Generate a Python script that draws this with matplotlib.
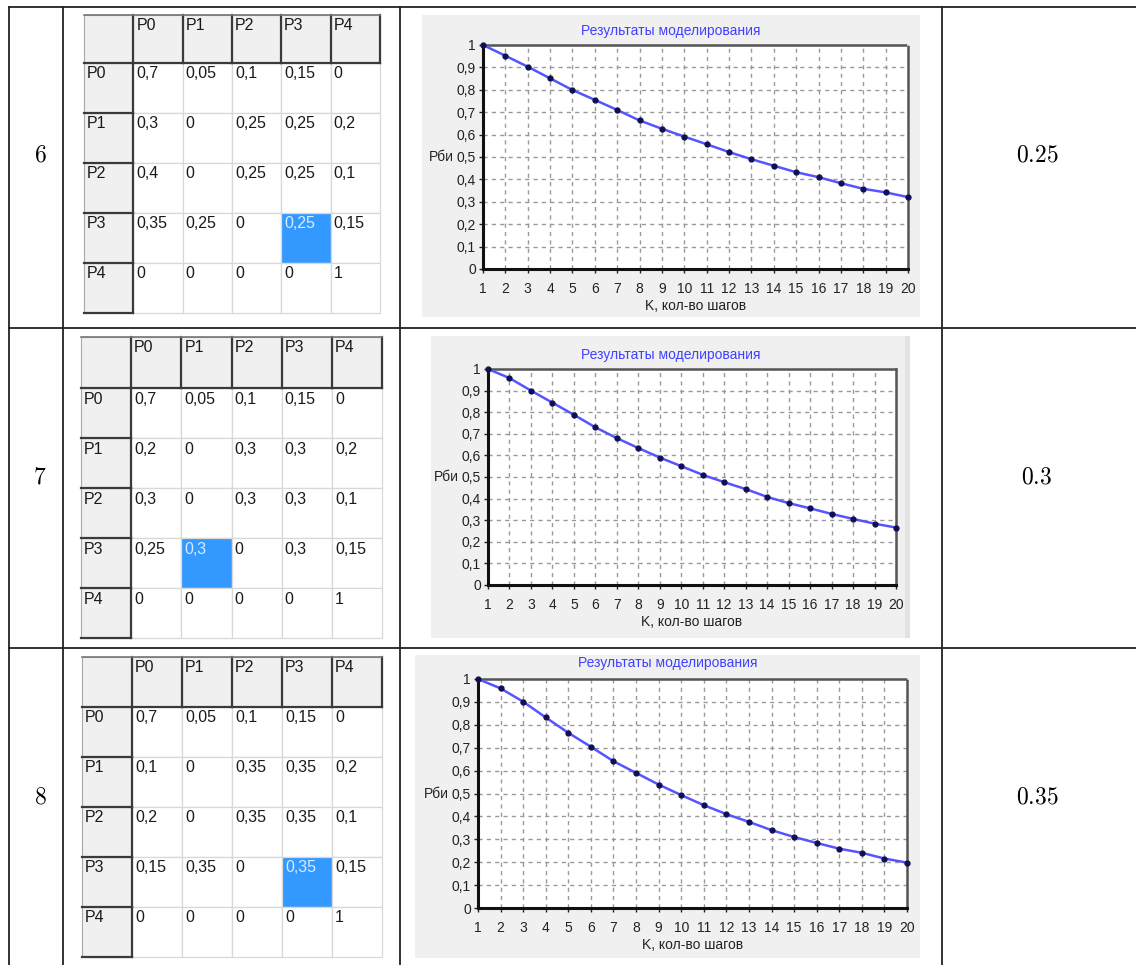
import matplotlib
matplotlib.use("Agg")
import matplotlib.pyplot as plt
from matplotlib.patches import Rectangle
from matplotlib.ticker import FuncFormatter, MultipleLocator

plt.rcParams['font.family'] = ['Liberation Sans', 'DejaVu Sans']
plt.rcParams['mathtext.fontset'] = 'cm'

W, H = 1136, 965

# table data
row_numbers = ["6", "7", "8"]
row_results = ["0.25", "0.3", "0.35"]
state_labels = ["P0", "P1", "P2", "P3", "P4"]

matrix_6 = [["0,7", "0,05", "0,1", "0,15", "0"],
            ["0,3", "0", "0,25", "0,25", "0,2"],
            ["0,4", "0", "0,25", "0,25", "0,1"],
            ["0,35", "0,25", "0", "0,25", "0,15"],
            ["0", "0", "0", "0", "1"]]
matrix_7 = [["0,7", "0,05", "0,1", "0,15", "0"],
            ["0,2", "0", "0,3", "0,3", "0,2"],
            ["0,3", "0", "0,3", "0,3", "0,1"],
            ["0,25", "0,3", "0", "0,3", "0,15"],
            ["0", "0", "0", "0", "1"]]
matrix_8 = [["0,7", "0,05", "0,1", "0,15", "0"],
            ["0,1", "0", "0,35", "0,35", "0,2"],
            ["0,2", "0", "0,35", "0,35", "0,1"],
            ["0,15", "0,35", "0", "0,35", "0,15"],
            ["0", "0", "0", "0", "1"]]
selected_cells = [(3, 3), (3, 1), (3, 3)]

# simulation results, K = 1..20
steps = list(range(1, 21))
p_6 = [1.0, 0.952, 0.903, 0.851, 0.799, 0.755, 0.710, 0.663, 0.626, 0.591,
       0.557, 0.522, 0.490, 0.461, 0.432, 0.410, 0.383, 0.358, 0.342, 0.321]
p_7 = [1.0, 0.958, 0.900, 0.844, 0.788, 0.730, 0.680, 0.634, 0.590, 0.550,
       0.510, 0.476, 0.444, 0.408, 0.379, 0.355, 0.329, 0.306, 0.284, 0.266]
p_8 = [1.0, 0.959, 0.901, 0.832, 0.765, 0.704, 0.641, 0.590, 0.539, 0.493,
       0.449, 0.410, 0.376, 0.340, 0.310, 0.284, 0.259, 0.241, 0.216, 0.198]

matrices = [matrix_6, matrix_7, matrix_8]
curves = [p_6, p_7, p_8]

cell_font = ['DejaVu Sans Condensed', 'Liberation Sans', 'DejaVu Sans']

fig = plt.figure(figsize=(W / 100, H / 100), dpi=100)
fig.patch.set_facecolor('white')

# pixel overlay for the outer table
ov = fig.add_axes([0, 0, 1, 1], zorder=0)
ov.set_xlim(0, W)
ov.set_ylim(H, 0)
ov.axis('off')

line_kw = dict(color='#222222', lw=1.3)
ov.plot([9, W], [7, 7], **line_kw)
ov.plot([9, W], [328, 328], **line_kw)
ov.plot([9, W], [648, 648], **line_kw)
for x in [9, 63, 400, 942]:
    ov.plot([x, x], [7, H], **line_kw)

row_text_y = [155, 477, 797]
for y, num, res in zip(row_text_y, row_numbers, row_results):
    ov.text(40, y, "$" + num + "$", fontsize=17, ha='center', va='center')
    ov.text(1037, y, "$" + res + "$", fontsize=17, ha='center', va='center')

# matrix tables: left, top, col width, header height, row height
table_geom = [(84, 15, 49.3, 48, 50), (81, 337, 50.2, 51, 50), (82, 657, 50, 50, 50)]


def draw_matrix(left, top, cw, hh, rh, data, sel):
    # corner + header row
    for j in range(6):
        x0 = left + j * cw
        ov.add_patch(Rectangle((x0, top), cw, hh, fc='#f0f0f0', ec='#a8a8a8', lw=0.8))
        ov.plot([x0 + cw, x0 + cw], [top, top + hh], color='#3a3a3a', lw=1.6)
        ov.plot([x0, x0 + cw], [top + hh, top + hh], color='#3a3a3a', lw=1.6)
        if j > 0:
            ov.text(x0 + 3, top + 10, state_labels[j - 1], fontsize=11.5,
                    family=cell_font, color='#1a1a1a', ha='left', va='center')
    ov.plot([left, left + 6 * cw], [top, top], color='#777777', lw=1.2)
    for i in range(5):
        y0 = top + hh + i * rh
        ov.add_patch(Rectangle((left, y0), cw, rh, fc='#f0f0f0', ec='#a8a8a8', lw=0.8))
        ov.plot([left + cw, left + cw], [y0, y0 + rh], color='#3a3a3a', lw=1.6)
        ov.plot([left, left + cw], [y0 + rh, y0 + rh], color='#3a3a3a', lw=1.6)
        ov.text(left + 3, y0 + 11, state_labels[i], fontsize=11.5, family=cell_font,
                color='#1a1a1a', ha='left', va='center')
        for j in range(5):
            x0 = left + (j + 1) * cw
            fc = '#3399ff' if (i, j) == sel else 'white'
            ov.add_patch(Rectangle((x0, y0), cw, rh, fc=fc, ec='#d8d8d8', lw=0.9))
            tc = '#d8ecff' if (i, j) == sel else '#1a1a1a'
            ov.text(x0 + 3, y0 + 11, data[i][j], fontsize=11.5, family=cell_font,
                    color=tc, ha='left', va='center')


for g, m, s in zip(table_geom, matrices, selected_cells):
    draw_matrix(*g, m, s)

# chart panels: background box and plot area in pixels
chart_boxes = [(422, 15, 920, 317), (431, 336, 910, 638), (415, 655, 920, 958)]
plot_areas = [(483, 45, 908, 269), (488, 369, 896, 585), (478, 679, 907, 908)]
title_y = [31, 355, 663]


def comma_fmt(v, pos):
    if abs(v) < 1e-9:
        return "0"
    if abs(v - 1) < 1e-9:
        return "1"
    return f"{v:.1f}".replace(".", ",")


for n, (box, area, vals) in enumerate(zip(chart_boxes, plot_areas, curves)):
    bl, bt, br, bb = box
    ov.add_patch(Rectangle((bl, bt), br - bl, bb - bt, fc='#f0f0f0', ec='none'))
    if n == 1:
        ov.add_patch(Rectangle((br - 5, bt), 5, bb - bt, fc='#e2e2e2', ec='none'))
    ov.text((bl + br) / 2, title_y[n], "Результаты моделирования", fontsize=10,
            color='#4040ff', ha='center', va='center')
    l, t, r, b = area
    ax = fig.add_axes([l / W, 1 - b / H, (r - l) / W, (b - t) / H], zorder=2)
    ax.set_facecolor('white')
    ax.plot(steps, vals, color='#5555ff', lw=1.8, zorder=3)
    ax.plot(steps, vals, ls='none', marker='o', ms=3.5, color='#101050', zorder=4,
            clip_on=False)
    ax.set_xlim(1, 20)
    ax.set_ylim(0, 1)
    ax.xaxis.set_major_locator(MultipleLocator(1))
    ax.yaxis.set_major_locator(MultipleLocator(0.1))
    ax.yaxis.set_major_formatter(FuncFormatter(comma_fmt))
    ax.grid(True, color='#999999', lw=1, ls=(0, (3, 3)))
    ax.tick_params(axis='both', labelsize=10, colors='#222222', length=3, width=1)
    ax.tick_params(axis='x', pad=6.5)
    ax.tick_params(axis='y', pad=2)
    for side in ['left', 'bottom']:
        ax.spines[side].set_color('#111111')
        ax.spines[side].set_linewidth(2.2)
    for side in ['top', 'right']:
        ax.spines[side].set_color('#555555')
        ax.spines[side].set_linewidth(1.8)
        ax.spines[side].set_linestyle((0, (1, 1)))
    ax.set_xlabel("K, кол-во шагов", fontsize=10, color='#222222', labelpad=2)
    ax.set_ylabel("Pби", fontsize=10, color='#222222', rotation=0,
                  ha='center', va='center')
    ax.yaxis.set_label_coords(-42 / (r - l), 0.5)

fig.savefig("out.png", dpi=100)
